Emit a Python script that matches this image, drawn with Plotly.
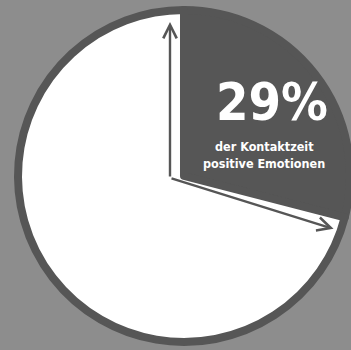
import math
import plotly.graph_objects as go

# ---- data ----
labels = ["positive Emotionen", "übrige Kontaktzeit"]
values = [29, 71]
colors = ["#565656", "#ffffff"]
headline = "29%"
sub_lines = ["der Kontaktzeit", "positive Emotionen"]

W, H = 351, 350
DARK = "#565656"

# pie geometry (pixels)
cx, cy = 184, 176
R = 166  # radius at centre of outline
x0, x1 = (cx - R) / W, (cx + R) / W
y0, y1 = 1 - (cy + R) / H, 1 - (cy - R) / H

fig = go.Figure(go.Pie(
    labels=labels, values=values, sort=False,
    direction="clockwise", rotation=0,
    marker=dict(colors=colors, line=dict(color=DARK, width=8)),
    textinfo="none", hoverinfo="skip", showlegend=False,
    domain=dict(x=[x0, x1], y=[y0, y1]),
))

# arrows derived from slice angle
share = values[0] / sum(values)
theta = math.radians(share * 360 - 90)  # angle below horizontal (screen coords)
corner = (cx - 14, cy + 2)
tip1 = (corner[0], cy - R + 4 + 8)
r_tip, off = 158, 14
tip2 = (cx + r_tip * math.cos(theta) - off * math.sin(theta),
        cy + r_tip * math.sin(theta) + off * math.cos(theta))

def p2paper(pt):
    return pt[0] / W, 1 - pt[1] / H

annotations = []
for tip in (tip1, tip2):
    px, py = p2paper(tip)
    annotations.append(dict(
        x=px, y=py, xref="paper", yref="paper",
        ax=corner[0] - tip[0], ay=corner[1] - tip[1],
        axref="pixel", ayref="pixel",
        showarrow=True, arrowhead=5, arrowsize=1.1, arrowwidth=2.4,
        arrowcolor=DARK, standoff=0, startstandoff=0, text="",
    ))

FONT = "Liberation Sans Narrow, Arial Narrow, DejaVu Sans Condensed, Roboto, sans-serif"
annotations.append(dict(
    x=272 / W, y=1 - 102 / H, xref="paper", yref="paper",
    text="<b>" + headline + "</b>", showarrow=False,
    font=dict(family=FONT, size=52, color="#ffffff"),
    xanchor="center", yanchor="middle",
))
for i, line in enumerate(sub_lines):
    annotations.append(dict(
        x=264 / W, y=1 - (146 + i * 17) / H, xref="paper", yref="paper",
        text="<b>" + line + "</b>", showarrow=False,
        font=dict(family=FONT, size=12.5, color="#ffffff"),
        xanchor="center", yanchor="middle",
    ))

fig.update_layout(
    width=W, height=H,
    margin=dict(l=0, r=0, t=0, b=0),
    paper_bgcolor="#8d8d8d", plot_bgcolor="#8d8d8d",
    annotations=annotations,
)

fig.write_html("out.html", config={"displayModeBar": False})
